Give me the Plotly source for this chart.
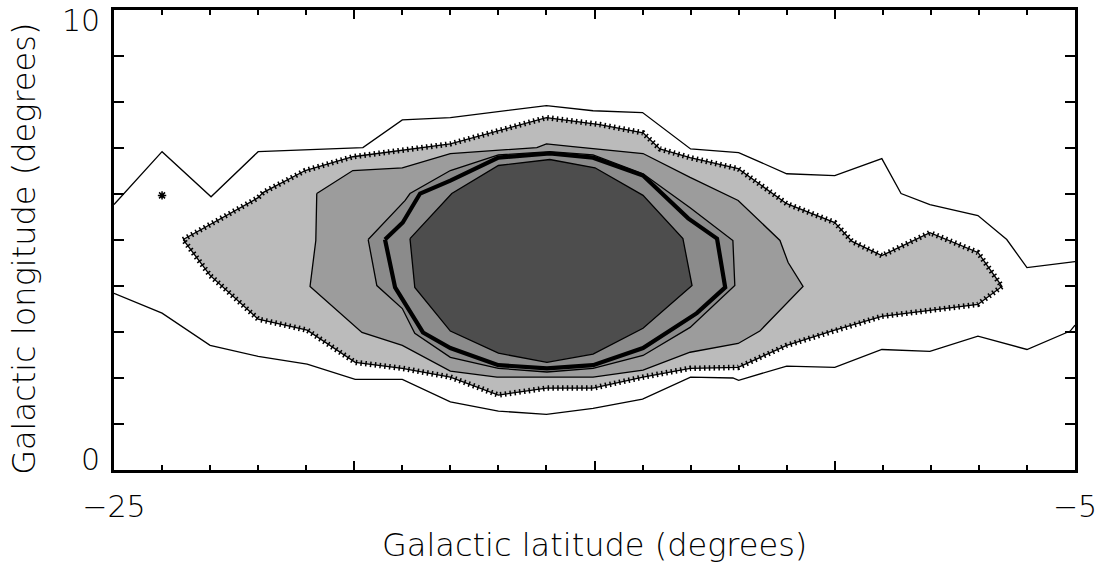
import plotly.graph_objects as go

# ---------------- data (degrees) ----------------
# outermost contour: two open lines crossing the frame
outer_top_x = [-25.0, -24.0, -22.98, -22.0, -19.82, -19.0, -18.0, -17.0, -16.0, -15.03, -14.0,
               -13.0, -12.0, -11.0, -10.0, -9.02, -8.62, -8.02, -7.02, -6.42, -6.0, -5.0]
outer_top_y = [5.77, 6.92, 5.94, 6.92, 7.01, 7.61, 7.66, 7.79, 7.92, 7.81, 7.77,
               6.98, 6.90, 6.44, 6.40, 6.77, 6.01, 5.77, 5.53, 5.01, 4.40, 4.53]
outer_bot_x = [-25.0, -24.0, -23.0, -22.0, -20.98, -19.98, -19.0, -18.0, -17.0, -16.0, -15.03,
               -14.0, -13.0, -12.12, -12.0, -11.0, -10.0, -9.02, -8.02, -7.02, -6.0, -5.1, -5.0]
outer_bot_y = [3.84, 3.41, 2.71, 2.47, 2.30, 1.97, 1.97, 1.48, 1.28, 1.21, 1.34,
               1.54, 2.02, 2.00, 1.95, 2.26, 2.23, 2.62, 2.58, 2.91, 2.62, 3.02, 3.15]

# level 2 (tick-marked boundary, light grey)
lev2_x = [-23.56, -22.0, -21.9, -21.02, -20.03, -19.0, -18.0, -16.0, -14.89, -13.99, -13.64,
          -13.01, -12.01, -11.0, -10.0, -9.64, -9.02, -8.02, -7.02, -6.52, -7.02, -9.02,
          -10.0, -11.0, -12.01, -13.01, -13.99, -15.03, -16.0, -17.0, -18.0, -19.0,
          -19.98, -20.98, -22.0, -23.0]
lev2_y = [5.01, 5.92, 6.03, 6.51, 6.81, 6.96, 7.09, 7.66, 7.51, 7.33, 6.98,
          6.79, 6.55, 5.79, 5.38, 4.97, 4.66, 5.16, 4.73, 3.99, 3.60, 3.34,
          3.04, 2.71, 2.23, 2.21, 2.02, 1.78, 1.78, 1.63, 2.02, 2.21,
          2.34, 3.04, 3.28, 4.23]
island_x = [-24.0]
island_y = [5.97]

# level 3 (medium grey)
lev3_x = [-20.78, -20.03, -19.0, -18.0, -16.2, -16.0, -15.45, -13.99, -13.01, -12.01, -11.14,
          -10.97, -10.66, -11.56, -12.01, -13.01, -13.99, -15.03, -17.03, -18.0, -19.0,
          -19.84, -20.92, -20.8]
lev3_y = [6.01, 6.51, 6.57, 6.88, 7.01, 7.09, 7.03, 6.88, 6.36, 5.86, 4.99,
          4.51, 3.99, 3.02, 2.75, 2.56, 2.17, 2.02, 2.02, 2.15, 2.71,
          2.99, 3.99, 4.99]

# level 4 (darker grey)
lev4_x = [-19.71, -18.94, -18.84, -18.0, -17.0, -15.93, -15.03, -13.99, -13.01, -12.12,
          -12.08, -13.01, -13.99, -15.03, -15.99, -17.0, -18.0, -18.74, -19.0, -19.53]
lev4_y = [5.01, 5.86, 6.01, 6.51, 6.85, 6.92, 6.85, 6.44, 5.70, 4.99,
          4.01, 3.10, 2.49, 2.21, 2.13, 2.21, 2.45, 2.97, 3.51, 4.01]

# level 5 (thick line)
lev5_x = [-19.36, -18.99, -18.63, -18.0, -17.0, -15.93, -15.03, -13.99, -13.05, -12.45,
          -12.28, -12.87, -13.99, -15.03, -15.99, -17.0, -18.0, -18.57, -19.15]
lev5_y = [5.01, 5.38, 6.01, 6.29, 6.79, 6.88, 6.79, 6.40, 5.47, 5.03,
          3.97, 3.41, 2.65, 2.28, 2.21, 2.28, 2.65, 2.99, 3.97]

# level 6 (dark core)
lev6_x = [-18.84, -17.97, -17.0, -15.93, -14.99, -13.99, -13.16, -12.97, -13.99, -15.03,
          -15.99, -17.0, -18.0, -18.74]
lev6_y = [5.03, 6.01, 6.62, 6.75, 6.57, 5.97, 5.03, 4.01, 3.08, 2.52,
          2.34, 2.54, 3.02, 3.97]

x_tickvals = [-25, -20, -15, -10, -5]
x_ticktext = ["\u221225", "", "", "", "\u22125"]
y_tickvals = [0, 5, 10]
y_ticktext = ["0", "", "10"]

FONT = "DejaVu Sans"
FONT_W = 200


def closed(xs, ys):
    return list(xs) + [xs[0]], list(ys) + [ys[0]]


fig = go.Figure()

# filled levels
for (xs, ys, col) in [(lev2_x, lev2_y, "#bbbbbb"), (lev3_x, lev3_y, "#9c9c9c"),
                      (lev4_x, lev4_y, "#8b8b8b")]:
    cx, cy = closed(xs, ys)
    fig.add_trace(go.Scatter(x=cx, y=cy, mode="lines", fill="toself", fillcolor=col,
                             line=dict(color="black", width=1.3), hoverinfo="skip"))

# tick marks on level-2 boundary (dense dashes across a wide stroke)
cx, cy = closed(lev2_x, lev2_y)
fig.add_trace(go.Scatter(x=cx, y=cy, mode="lines",
                         line=dict(color="black", width=5.5, dash="1.5px,3.3px"),
                         hoverinfo="skip"))

# thick level 5
cx, cy = closed(lev5_x, lev5_y)
fig.add_trace(go.Scatter(x=cx, y=cy, mode="lines", line=dict(color="black", width=4.2),
                         hoverinfo="skip"))

# dark core
cx, cy = closed(lev6_x, lev6_y)
fig.add_trace(go.Scatter(x=cx, y=cy, mode="lines", fill="toself", fillcolor="#4d4d4d",
                         line=dict(color="black", width=1.3), hoverinfo="skip"))

# outermost open contour lines
fig.add_trace(go.Scatter(x=outer_top_x, y=outer_top_y, mode="lines",
                         line=dict(color="black", width=1.3), hoverinfo="skip"))
fig.add_trace(go.Scatter(x=outer_bot_x, y=outer_bot_y, mode="lines",
                         line=dict(color="black", width=1.3), hoverinfo="skip"))

# tiny isolated contour
fig.add_trace(go.Scatter(x=island_x, y=island_y, mode="markers",
                         marker=dict(symbol="asterisk-open", size=7, color="black",
                                     line=dict(color="black", width=1.5)),
                         hoverinfo="skip"))

axis_common = dict(showline=True, linecolor="black", linewidth=2.5, mirror="ticks",
                   showgrid=False, zeroline=False, ticks="inside", tickcolor="black",
                   tickwidth=2, automargin=False)

text_font = dict(family=FONT, size=30, color="black", weight=FONT_W)
title_font = dict(family=FONT, size=32, color="black", weight=FONT_W)

fig.update_xaxes(range=[-25, -5], tickmode="array", tickvals=x_tickvals, ticktext=x_ticktext,
                 ticklen=9, minor=dict(tickmode="linear", tick0=-25, dtick=1, ticklen=5,
                                       tickwidth=2, ticks="inside", tickcolor="black"),
                 tickfont=text_font, ticklabelstandoff=8,
                 **axis_common)
fig.update_yaxes(range=[0, 10], tickmode="array", tickvals=y_tickvals, ticktext=y_ticktext,
                 showticklabels=False, ticklen=19,
                 minor=dict(tickmode="linear", tick0=0, dtick=1, ticklen=10, tickwidth=2,
                            ticks="inside", tickcolor="black"),
                 **axis_common)

fig.add_annotation(x=-0.012, y=0.977, xref="paper", yref="paper", text=y_ticktext[2],
                   showarrow=False, xanchor="right", yanchor="middle", font=text_font)
fig.add_annotation(x=-0.012, y=0.022, xref="paper", yref="paper", text=y_ticktext[0],
                   showarrow=False, xanchor="right", yanchor="middle", font=text_font)
fig.add_annotation(x=-0.093, y=0.48, xref="paper", yref="paper",
                   text="Galactic longitude (degrees)", textangle=-90,
                   showarrow=False, xanchor="center", yanchor="middle", font=title_font)
fig.add_annotation(x=0.5, y=-0.162, xref="paper", yref="paper",
                   text="Galactic latitude (degrees)",
                   showarrow=False, xanchor="center", yanchor="middle", font=title_font)

fig.update_layout(width=1101, height=565, margin=dict(l=114, r=26, t=10, b=95),
                  paper_bgcolor="white", plot_bgcolor="white", showlegend=False)

fig.write_html("out.html")
